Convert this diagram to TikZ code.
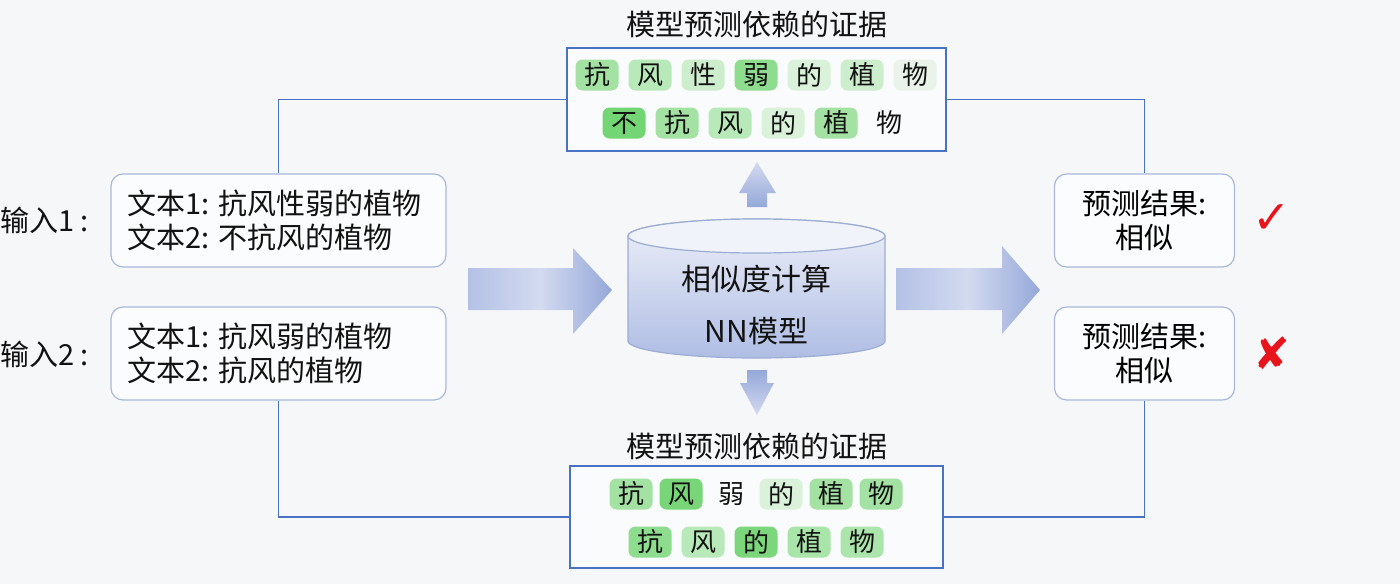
\documentclass[tikz,border=0pt]{standalone}
\usepackage{fontspec}
\setmainfont{Noto Sans CJK SC}
\newfontfamily\djv{DejaVu Sans}
\definecolor{bg}{HTML}{F6F7F9}
\definecolor{lineblue}{HTML}{4A72C4}
\definecolor{boxedge}{HTML}{A9B8DA}
\definecolor{cylEdge}{HTML}{9DACD3}
\definecolor{arrL}{HTML}{B4C1E6}
\definecolor{arrM}{HTML}{D3DAF0}
\definecolor{arrR}{HTML}{95A8D9}
\definecolor{gS}{HTML}{74D574}
\definecolor{gMS}{HTML}{8EDC8E}
\definecolor{gM}{HTML}{A3E2A3}
\definecolor{gLM}{HTML}{B8E9B8}
\definecolor{gL}{HTML}{CDEECD}
\definecolor{gVL}{HTML}{DAF1DA}
\definecolor{gF}{HTML}{EAF3EA}
\definecolor{xred}{HTML}{E8141B}
\begin{document}
\begin{tikzpicture}[x=0.5pt,y=0.5pt,
  inbox/.style={draw=boxedge, line width=0.6pt, fill=white!60!bg, rounded corners=6pt,
    minimum width=167.5pt, minimum height=46.5pt, inner sep=0pt},
  resbox/.style={draw=boxedge, line width=0.6pt, fill=white!60!bg, rounded corners=6pt,
    minimum width=90pt, minimum height=46.5pt, inner sep=0pt, align=center,
    font=\fontsize{14.5}{17}\selectfont},
  evbox/.style={draw=lineblue, line width=0.7pt, fill=white!50!bg, inner sep=0pt},
  big/.style={font=\fontsize{14.5}{17}\selectfont, text=black!93},
  tok/.style={rounded corners=3.5pt, minimum width=21.5pt, minimum height=15.5pt, inner sep=0pt,
    font=\fontsize{13}{14}\selectfont, text=black!93},
  conn/.style={draw=lineblue, line width=0.6pt},
  blockarrow/.style={left color=arrL, right color=arrR, middle color=arrM, draw=none}
]
\fill[bg] (0,0) rectangle (1400,-584);
\useasboundingbox (0,0) rectangle (1400,-584);

% titles
\node[big] (ttop) at (756.5,-24) {模型预测依赖的证据};
\node[big] (tbot) at (756.5,-446) {模型预测依赖的证据};

% evidence boxes
\node[evbox, minimum width=189.5pt, minimum height=51.5pt] (evtop) at (756.5,-99.5) {};
\node[evbox, minimum width=186.5pt, minimum height=51pt] (evbot) at (756.5,-517) {};

% top tokens row 1
\node[tok, fill=gM]  (a1) at (597,-75) {抗};
\node[tok, fill=gLM] (a2) at (650,-75) {风};
\node[tok, fill=gL]  (a3) at (703,-75) {性};
\node[tok, fill=gMS] (a4) at (756,-75) {弱};
\node[tok, fill=gVL] (a5) at (809,-75) {的};
\node[tok, fill=gL]  (a6) at (862,-75) {植};
\node[tok, fill=gF]  (a7) at (915,-75) {物};
% top tokens row 2
\node[tok, fill=gS]  (b1) at (624,-123) {不};
\node[tok, fill=gM]  (b2) at (677,-123) {抗};
\node[tok, fill=gLM] (b3) at (730,-123) {风};
\node[tok, fill=gVL] (b4) at (783,-123) {的};
\node[tok, fill=gM]  (b5) at (836,-123) {植};
\node[tok]           (b6) at (889,-123) {物};
% bottom tokens row 1
\node[tok, fill=gM]  (c1) at (631,-494) {抗};
\node[tok, fill=gS!85!gMS] (c2) at (681,-494) {风};
\node[tok]           (c3) at (731,-494) {弱};
\node[tok, fill=gVL] (c4) at (781,-494) {的};
\node[tok, fill=gM]  (c5) at (831,-494) {植};
\node[tok, fill=gM]  (c6) at (881,-494) {物};
% bottom tokens row 2
\node[tok, fill=gMS] (d1) at (650,-542) {抗};
\node[tok, fill=gLM] (d2) at (703,-542) {风};
\node[tok, fill=gS!70!gMS] (d3) at (756,-542) {的};
\node[tok, fill=gM!70!gLM] (d4) at (809,-542) {植};
\node[tok, fill=gM!60!gLM] (d5) at (862,-542) {物};

% input labels
\node[big, anchor=west, inner sep=0pt] (lab1) at (0,-220) {输入1 :};
\node[big, anchor=west, inner sep=0pt] (lab2) at (0,-354) {输入2 :};

% input boxes
\node[inbox] (in1) at (278.5,-220.5) {};
\node[big, anchor=west, align=left, inner sep=0pt] (in1t) at ([xshift=8.5pt]in1.west) {文本1: 抗风性弱的植物\\文本2: 不抗风的植物};
\node[inbox] (in2) at (278.5,-353.5) {};
\node[big, anchor=west, align=left, inner sep=0pt] (in2t) at ([xshift=8.5pt]in2.west) {文本1: 抗风弱的植物\\文本2: 抗风的植物};

% result boxes
\node[resbox] (res1) at (1144.5,-220.5) {预测结果:\\相似};
\node[resbox] (res2) at (1144.5,-353.5) {预测结果:\\相似};

% marks
\node[text=xred, font=\djv\fontsize{23}{23}\selectfont] (ok) at (1272,-219) {✓};
\node[text=xred, font=\djv\fontsize{22}{22}\selectfont] (ko) at (1272,-353) {✘};

% connectors
\draw[conn] (in1.north) |- (evtop.west);
\draw[conn] (evtop.east) -| (res1.north);
\draw[conn] (in2.south) |- (evbot.west);
\draw[conn] (evbot.east) -| (res2.south);

% big block arrows
\path[blockarrow] (468,-268) -- (573,-268) -- (573,-248) -- (612,-290) -- (573,-334)
  -- (573,-310) -- (468,-310) -- cycle;
\path[blockarrow] (896,-268) -- (1002,-268) -- (1002,-246) -- (1040,-290) -- (1002,-334)
  -- (1002,-310) -- (896,-310) -- cycle;
% small arrows
\path[top color=arrM, bottom color=arrR, draw=none] (747,-207) -- (747,-193) -- (739,-193)
  -- (757,-162) -- (776,-193) -- (767,-193) -- (767,-207) -- cycle;
\path[top color=arrR, bottom color=arrM, draw=none] (747,-370) -- (767,-370) -- (767,-383)
  -- (774,-383) -- (757,-415) -- (740,-383) -- (747,-383) -- cycle;

% cylinder
\path[draw=cylEdge, line width=0.6pt, top color=white!75!arrL, bottom color=arrL!85!arrR]
  (628,-236) -- (628,-341) arc[start angle=180, end angle=360, x radius=128.5, y radius=17]
  -- (885,-236) arc[start angle=0, end angle=180, x radius=128.5, y radius=17] -- cycle;
\draw[cylEdge, line width=0.6pt, fill=white!80!arrL] (756.5,-236) ellipse[x radius=128.5, y radius=17];
\node[big, font=\fontsize{15}{17}\selectfont] (cyl1) at (756.5,-279) {相似度计算};
\node[big, font=\fontsize{15}{17}\selectfont] (cyl2) at (756.5,-331) {NN模型};
\end{tikzpicture}
\end{document}
